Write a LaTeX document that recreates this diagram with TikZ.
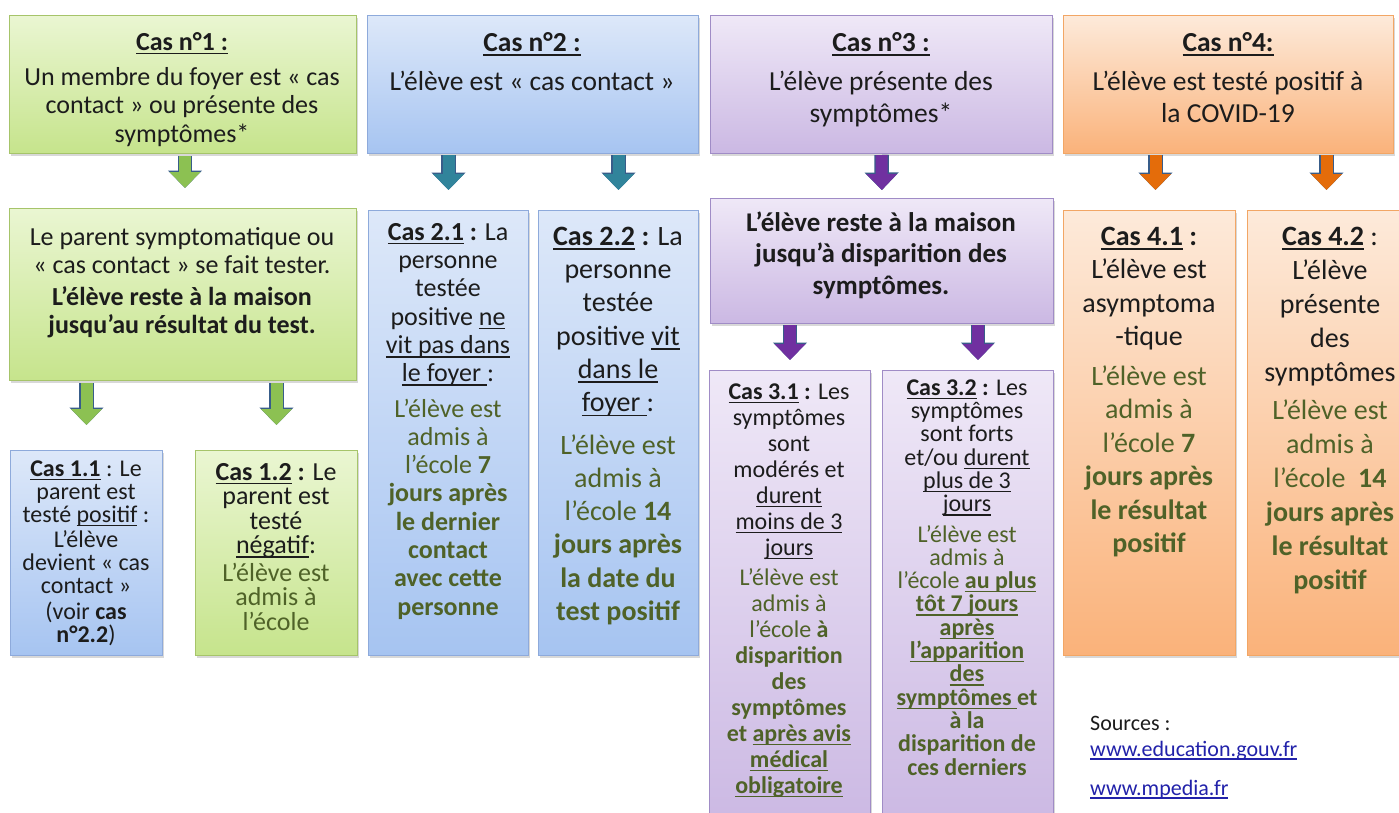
\documentclass[tikz,border=0pt]{standalone}
\usepackage{fontspec}
\setmainfont{Carlito}
\usetikzlibrary{shadows,arrows.meta}
\definecolor{tk}{HTML}{1C1C1C}
\definecolor{gt}{HTML}{4F6228}
\definecolor{lnk}{HTML}{2222AA}
\definecolor{gtop}{HTML}{EAF6D2}
\definecolor{gbot}{HTML}{C6E48C}
\definecolor{gbd}{HTML}{A6C46A}
\definecolor{btop}{HTML}{DDE8F9}
\definecolor{bbot}{HTML}{A6C4F1}
\definecolor{bbd}{HTML}{8EAADB}
\definecolor{ptop}{HTML}{EFE8F7}
\definecolor{pbot}{HTML}{CBB8E3}
\definecolor{pbd}{HTML}{A08CC6}
\definecolor{otop}{HTML}{FDEADA}
\definecolor{obot}{HTML}{FAB27A}
\definecolor{obd}{HTML}{F2A665}
\definecolor{agreen}{HTML}{8CC152}
\definecolor{ateal}{HTML}{31849B}
\definecolor{apurple}{HTML}{7030A0}
\definecolor{aorange}{HTML}{E46C0A}
\definecolor{aout}{HTML}{385D8A}
\newcommand\fl{\rule{0pt}{1em}}
\newcommand\gr[1]{\textcolor{gt}{#1}}
\newcommand\ul[1]{\leavevmode\setbox0\hbox{#1}\rlap{\rule[-0.16em]{\wd0}{0.06em}}\box0\relax}
\tikzset{
  boxbase/.style={rectangle, line width=1pt, anchor=north west, inner sep=0pt,
    drop shadow={shadow xshift=1.5pt, shadow yshift=-2pt, opacity=.3}},
  gbox/.style={boxbase, draw=gbd, top color=gtop, bottom color=gbot},
  bbox/.style={boxbase, draw=bbd, top color=btop, bottom color=bbot},
  pbox/.style={boxbase, draw=pbd, top color=ptop, bottom color=pbot},
  obox/.style={boxbase, draw=obd, top color=otop, bottom color=obot},
  txt/.style={anchor=north, inner sep=0pt, align=center, text=tk},
  arr/.style={line width=12pt, draw=#1, -{Triangle[length=16pt,width=30pt]},
    preaction={draw=aout, line width=14.5pt, -{Triangle[length=17.5pt,width=33pt]}}}
}
\begin{document}
\begin{tikzpicture}[x=1pt,y=-1pt]
\useasboundingbox (0,0) rectangle (1399,812);
\clip (0,0) rectangle (1399,812);
\fill[white] (0,0) rectangle (1399,812);

% boxes
\node[gbox, minimum width=347pt, minimum height=138pt] (b1) at (9,15) {};
\node[bbox, minimum width=331pt, minimum height=138pt] (b2) at (367,15) {};
\node[pbox, minimum width=342pt, minimum height=138pt] (b3) at (710,15) {};
\node[obox, minimum width=330pt, minimum height=138pt] (b4) at (1063,15) {};
\node[gbox, minimum width=347pt, minimum height=172pt] (b1b) at (9,208) {};
\node[bbox, minimum width=152pt, minimum height=205pt] (b11) at (10,450) {};
\node[gbox, minimum width=162pt, minimum height=205pt] (b12) at (195,450) {};
\node[bbox, minimum width=160pt, minimum height=445pt] (b21) at (368,210) {};
\node[bbox, minimum width=160pt, minimum height=445pt] (b22) at (538,210) {};
\node[pbox, minimum width=343pt, minimum height=125pt] (b3m) at (710,198) {};
\node[pbox, minimum width=161pt, minimum height=460pt] (b31) at (709,370) {};
\node[pbox, minimum width=171pt, minimum height=460pt] (b32) at (882,370) {};
\node[obox, minimum width=172pt, minimum height=445pt] (b41) at (1063,210) {};
\node[obox, minimum width=166pt, minimum height=445pt] (b42) at (1247,210) {};

% arrows
\draw[arr=agreen, shorten <=2pt, shorten >=20pt] ([xshift=2pt]b1.south) -- ([xshift=2pt]b1b.north);
\draw[arr=ateal, shorten <=1pt, shorten >=20pt] (b2.south -| b21.north) -- (b21.north);
\draw[arr=ateal, shorten <=1pt, shorten >=20pt] (b2.south -| b22.north) -- (b22.north);
\draw[arr=apurple, shorten <=1pt, shorten >=8pt] (b3.south) -- (b3m.north);
\draw[arr=apurple, shorten <=1pt, shorten >=10pt] (b3m.south -| b31.north) -- (b31.north);
\draw[arr=apurple, shorten <=1pt, shorten >=10pt] ([xshift=10pt]b3m.south -| b32.north) -- ([xshift=10pt]b32.north);
\draw[arr=aorange, shorten <=1pt, shorten >=20pt] ([xshift=6pt]b4.south -| b41.north) -- ([xshift=6pt]b41.north);
\draw[arr=aorange, shorten <=1pt, shorten >=20pt] ([xshift=-4pt]b4.south -| b42.north) -- ([xshift=-4pt]b42.north);
\draw[arr=agreen, shorten <=2pt, shorten >=25pt] (b1b.south -| b11.north) -- (b11.north);
\draw[arr=agreen, shorten <=2pt, shorten >=25pt] (b1b.south -| b12.north) -- (b12.north);

% texts
\node[txt, font=\fontsize{26}{28.5}\selectfont] (t1) at (182,24)
  {\fl\ul{\textbf{Cas n°1 :}}\\[6.5pt] Un membre du foyer est « cas\\ contact » ou présente des\\ symptômes*};
\node[txt, font=\fontsize{27.5}{32}\selectfont] (t2) at (532,23.5)
  {\fl\ul{\textbf{Cas n°2 :}}\\[7pt] L’élève est « cas contact »};
\node[txt, font=\fontsize{27.5}{32}\selectfont] (t3) at (881,23.5)
  {\fl\ul{\textbf{Cas n°3 :}}\\[7pt] L’élève présente des\\ symptômes*};
\node[txt, font=\fontsize{27.5}{32}\selectfont] (t4) at (1228,23.5)
  {\fl\ul{\textbf{Cas n°4:}}\\[7pt] L’élève est testé positif à\\ la COVID-19};
\node[txt, font=\fontsize{26}{28}\selectfont] (t1b) at (182,219)
  {\fl Le parent symptomatique ou\\ « cas contact » se fait tester.\\[4pt]
   \textbf{L’élève reste à la maison}\\ \textbf{jusqu’au résultat du test.}};
\node[txt, font=\fontsize{24}{23}\selectfont] (t11) at (86,452)
  {\fl\ul{\textbf{Cas 1.1}} : Le\\ parent est\\ testé \ul{positif} :\\[2pt]
   L’élève\\ devient « cas\\ contact »\\[3pt] (voir \textbf{cas}\\ \textbf{n°2.2})};
\node[txt, font=\fontsize{26}{24.5}\selectfont] (t12) at (276,454)
  {\fl\ul{\textbf{Cas 1.2}}\textbf{ :} Le\\ parent est\\ testé\\ \ul{négatif}:\\[3pt]
   \gr{L’élève est}\\ \gr{admis à}\\ \gr{l’école}};
\node[txt, font=\fontsize{26}{28.3}\selectfont] (t21) at (448,214)
  {\fl\ul{\textbf{Cas 2.1}}\textbf{ :} La\\ personne\\ testée\\ positive \ul{ne}\\ \ul{vit pas dans}\\ \ul{le foyer }:\\[7pt]
   \gr{L’élève est}\\ \gr{admis à}\\ \gr{l’école \textbf{7}}\\ \gr{\textbf{jours après}}\\ \gr{\textbf{le dernier}}\\
   \gr{\textbf{contact}}\\ \gr{\textbf{avec cette}}\\ \gr{\textbf{personne}}};
\node[txt, font=\fontsize{28}{33.3}\selectfont] (t22) at (618,217)
  {\fl\ul{\textbf{Cas 2.2}}\textbf{ :} La\\ personne\\ testée\\ positive \ul{vit}\\ \ul{dans le}\\ \ul{foyer }:\\[9pt]
   \gr{L’élève est}\\ \gr{admis à}\\ \gr{l’école \textbf{14}}\\ \gr{\textbf{jours après}}\\ \gr{\textbf{la date du}}\\ \gr{\textbf{test positif}}};
\node[txt, font=\fontsize{27}{31.5}\selectfont\bfseries] (t3m) at (881,204)
  {\fl L’élève reste à la maison\\ jusqu’à disparition des\\ symptômes.};
\node[txt, font=\fontsize{24}{26}\selectfont] (t31) at (789,375)
  {\fl\ul{\textbf{Cas 3.1}}\textbf{ :} Les\\ symptômes\\ sont\\ modérés et\\ \ul{durent}\\ \ul{moins de 3}\\ \ul{jours}\\[4pt]
   \gr{L’élève est}\\ \gr{admis à}\\ \gr{l’école \textbf{à}}\\ \gr{\textbf{disparition}}\\ \gr{\textbf{des}}\\ \gr{\textbf{symptômes}}\\
   \gr{\textbf{et \ul{après avis}}}\\ \gr{\textbf{\ul{médical}}}\\ \gr{\textbf{\ul{obligatoire}}}};
\node[txt, font=\fontsize{24}{23.3}\selectfont] (t32) at (967,371)
  {\fl\ul{\textbf{Cas 3.2}}\textbf{ :} Les\\ symptômes\\ sont forts\\ et/ou \ul{durent}\\ \ul{plus de 3}\\ \ul{jours}\\[7pt]
   \gr{L’élève est}\\ \gr{admis à}\\ \gr{l’école \textbf{\ul{au plus}}}\\ \gr{\textbf{\ul{tôt 7 jours}}}\\ \gr{\textbf{\ul{après}}}\\
   \gr{\textbf{\ul{l’apparition}}}\\ \gr{\textbf{\ul{des}}}\\ \gr{\textbf{\ul{symptômes }et}}\\ \gr{\textbf{à la}}\\
   \gr{\textbf{disparition de}}\\ \gr{\textbf{ces derniers}}};
\node[txt, font=\fontsize{28}{33.5}\selectfont] (t41) at (1149,217)
  {\fl\ul{\textbf{Cas 4.1}}\textbf{ :}\\ L’élève est\\ asymptoma\\ -tique\\[6pt]
   \gr{L’élève est}\\ \gr{admis à}\\ \gr{l’école \textbf{7}}\\ \gr{\textbf{jours après}}\\ \gr{\textbf{le résultat}}\\ \gr{\textbf{positif}}};
\node[txt, font=\fontsize{28}{34}\selectfont] (t42) at (1330,217)
  {\fl\ul{\textbf{Cas 4.2}} :\\ L’élève\\ présente\\ des\\ symptômes\\[4pt]
   \gr{L’élève est}\\ \gr{admis à}\\ \gr{l’école~ \textbf{14}}\\ \gr{\textbf{jours après}}\\ \gr{\textbf{le résultat}}\\ \gr{\textbf{positif}}};

% sources
\node[anchor=base west, inner sep=0pt, text=tk, font=\fontsize{22}{26}\selectfont] (src) at (1090,730) {Sources :};
\node[anchor=base west, inner sep=0pt, text=lnk, font=\fontsize{22}{26}\selectfont] (l1) at (1090,756) {\ul{www.education.gouv.fr}};
\node[anchor=base west, inner sep=0pt, text=lnk, font=\fontsize{22}{26}\selectfont] (l2) at (1090,795) {\ul{www.mpedia.fr}};
\end{tikzpicture}
\end{document}
